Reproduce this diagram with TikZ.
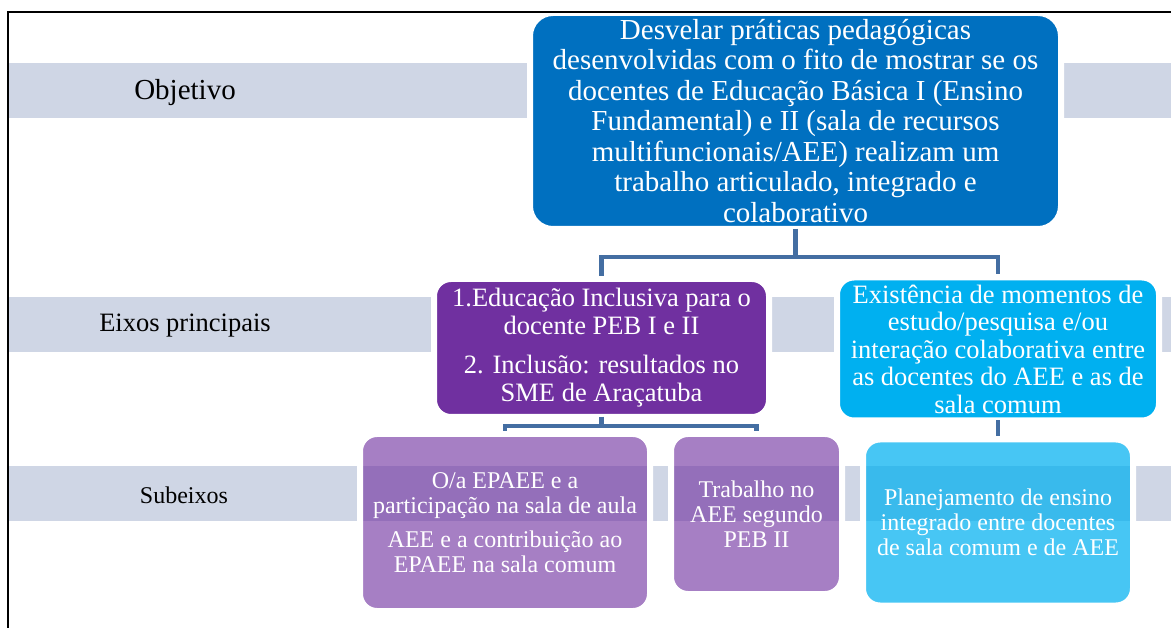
\documentclass[tikz,border=0pt]{standalone}
\usepackage{fontspec}
\setmainfont{Liberation Serif}
\usetikzlibrary{positioning}

\definecolor{bandgray}{RGB}{207,214,229}
\definecolor{objblue}{RGB}{0,112,192}
\definecolor{eixopurple}{RGB}{112,48,160}
\definecolor{eixocyan}{RGB}{0,176,240}
\definecolor{connblue}{RGB}{68,110,162}

\begin{document}
\begin{tikzpicture}[
    x=1pt, y=-1pt,
    band/.style={fill=bandgray},
    rowlabel/.style={text=black, align=center},
    card/.style={rectangle, draw=white, line width=6pt, outer sep=0pt, inner sep=0pt, align=center, text=white, rounded corners=17pt},
    objbox/.style={card, fill=objblue, rounded corners=23pt, minimum width=531pt, minimum height=216pt, font=\fontsize{29}{30.5}\selectfont},
    eixobox/.style={card, font=\fontsize{26.5}{28}\selectfont},
    subbox/.style={card, fill=eixopurple, fill opacity=0.62, text opacity=1, font=\fontsize{24}{25}\selectfont},
    conn/.style={draw=connblue, line width=4.5pt, shorten >=3pt}
]
\useasboundingbox (0,0) rectangle (1171,628);

% Row bands
\fill[band] (9,63) rectangle (1171,118);
\fill[band] (9,297) rectangle (1171,352);
\fill[band] (9,466) rectangle (1171,521);

% Row labels
\node[rowlabel, font=\fontsize{29}{30}\selectfont] (LblObj) at (185,93) {Objetivo};
\node[rowlabel, font=\fontsize{26.5}{28}\selectfont] (LblEixos) at (185,326) {Eixos principais};
\node[rowlabel, font=\fontsize{24}{25}\selectfont] (LblSub) at (184,495) {Subeixos};

% Objective
\node[objbox] (Obj) at (795.5,121) {Desvelar práticas pedagógicas\\
    desenvolvidas com o fito de mostrar se os\\
    docentes de Educação Básica I (Ensino\\
    Fundamental) e II (sala de recursos\\
    multifuncionais/AEE) realizam um\\
    trabalho articulado, integrado e\\
    colaborativo};

% Main axes
\node[eixobox, fill=eixopurple, minimum width=335pt, minimum height=138pt] (EixoInc) at (601.5,348) {1.Educação Inclusiva para o\\
    docente PEB I e II\\[11pt]
    2. Inclusão: resultados no\\
    SME de Araçatuba};
\node[eixobox, fill=eixocyan, minimum width=322pt, minimum height=143pt, font=\fontsize{26.5}{27.5}\selectfont] (EixoEst) at (998,349) {Existência de momentos de\\
    estudo/pesquisa e/ou\\
    interação colaborativa entre\\
    as docentes do AEE e as de\\
    sala comum};

% Sub-axes
\node[subbox, minimum width=290pt, minimum height=177pt] (SubPart) at (505,522.5) {O/a EPAEE e a\\
    participação na sala de aula\\[9pt]
    AEE e a contribuição ao\\
    EPAEE na sala comum};
\node[subbox, minimum width=171pt, minimum height=160pt] (SubTrab) at (756.5,514) {Trabalho no\\
    AEE segundo\\
    PEB II};
\node[subbox, fill=eixocyan, fill opacity=0.72, minimum width=270pt, minimum height=166pt, below=19pt of EixoEst] (SubPlan) {Planejamento de ensino\\
    integrado entre docentes\\
    de sala comum e de AEE};

% Connectors
\draw[conn] (Obj.south) -- ++(0,28) -| (EixoInc.north);
\draw[conn] (Obj.south) -- ++(0,28) -| (EixoEst.north);
\draw[conn] (EixoInc.south) -- ++(0,9) -| (SubPart.north);
\draw[conn] (EixoInc.south) -- ++(0,9) -| (SubTrab.north);
\draw[conn] (EixoEst.south) -- (SubPlan.north);

% Frame
\draw[line width=2pt] (8,628) -- (8,12) -- (1171,12);

\end{tikzpicture}
\end{document}
